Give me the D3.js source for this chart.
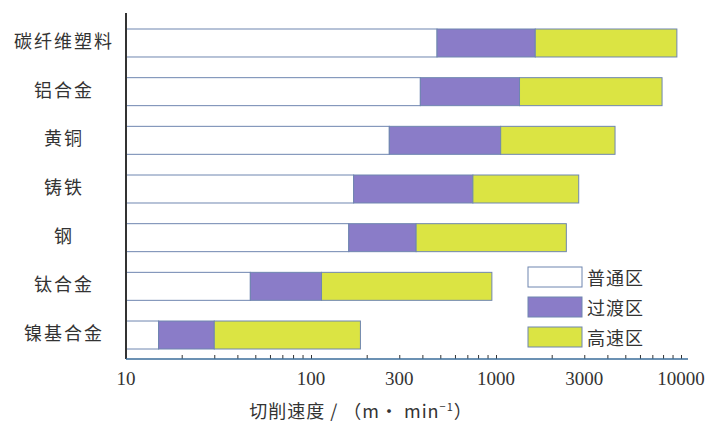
<!DOCTYPE html>
<html>
<head>
<meta charset="utf-8">
<script src="https://cdn.jsdelivr.net/npm/d3@7"></script>
<style>
  body { margin: 0; background: #fff; }
  svg { display: block; }
  .cat { font-family: "Noto Sans CJK SC", sans-serif; font-size: 18px; fill: #333; }
  .tick-label { font-family: "Liberation Serif", serif; font-size: 19px; fill: #333; }
</style>
</head>
<body>
<div id="chart"></div>
<script>
// materials, top to bottom
const materials = ["碳纤维塑料", "铝合金", "黄铜", "铸铁", "钢", "钛合金", "镍基合金"];
// speed boundaries (m/min)
const normalEnd = [480, 390, 265, 170, 160, 47, 15];     // 普通区 ends / 过渡区 starts
const transEnd = [1630, 1340, 1060, 750, 370, 114, 30];  // 过渡区 ends / 高速区 starts
const highEnd = [9500, 7900, 4400, 2800, 2400, 950, 185];
const zones = ["普通区", "过渡区", "高速区"];
const zoneColors = ["#ffffff", "#8a7cc8", "#dbe443"];
const tickValues = [10, 100, 300, 1000, 3000, 10000];

const width = 716, height = 423;
const svg = d3.select("#chart").append("svg")
  .attr("width", width).attr("height", height);

const x = d3.scaleLog().domain([10, 10000]).range([126, 681]);
const y = d3.scaleBand().domain(materials).range([29, 349])
  .paddingInner(0.425).paddingOuter(0);

// build segments per material
const segs = [];
materials.forEach((m, i) => {
  const bounds = [10, normalEnd[i], transEnd[i], highEnd[i]];
  for (let k = 0; k < 3; k++) {
    segs.push({ m, k, x0: bounds[k], x1: bounds[k + 1] });
  }
});

svg.append("g").selectAll("rect")
  .data(segs)
  .enter()
  .append("rect")
  .attr("x", d => x(d.x0))
  .attr("y", d => y(d.m))
  .attr("width", d => x(d.x1) - x(d.x0))
  .attr("height", y.bandwidth())
  .attr("fill", d => zoneColors[d.k])
  .attr("stroke", "#6f86b0")
  .attr("stroke-width", 1);

// category labels
svg.append("g").selectAll("text")
  .data(materials)
  .enter()
  .append("text")
  .attr("class", "cat")
  .attr("x", 64)
  .attr("y", d => y(d) + y.bandwidth() / 2 - 3)
  .attr("text-anchor", "middle")
  .attr("dominant-baseline", "central")
  .style("letter-spacing", "2px")
  .text(d => d);

// y axis line
svg.append("line")
  .attr("x1", x(10)).attr("x2", x(10))
  .attr("y1", 13).attr("y2", 359)
  .attr("stroke", "#333").attr("stroke-width", 2);

// bottom axis with inward minor ticks
const xAxis = d3.axisBottom(x)
  .tickValues(x.ticks())
  .tickSize(-4)
  .tickFormat("");
const gx = svg.append("g")
  .attr("transform", "translate(0,359)")
  .call(xAxis);
gx.select(".domain").remove();
gx.selectAll(".tick line").attr("stroke", "#333");
gx.append("line")
  .attr("x1", x(10)).attr("x2", 688)
  .attr("stroke", "#3a6d9a").attr("stroke-width", 1.5);

svg.append("g").selectAll("text")
  .data(tickValues)
  .enter()
  .append("text")
  .attr("class", "tick-label")
  .attr("x", d => x(d))
  .attr("y", 385)
  .attr("text-anchor", "middle")
  .text(d => d);

// axis title
const title = svg.append("text")
  .attr("x", 361).attr("y", 418)
  .attr("text-anchor", "middle")
  .style("font-family", "'Noto Sans CJK SC', sans-serif")
  .style("font-size", "18px")
  .style("letter-spacing", "1px")
  .style("fill", "#333");
title.append("tspan").text("切削速度 / （m· min");
title.append("tspan").attr("dy", -7).style("font-size", "11px").text("−1");
title.append("tspan").attr("dy", 7).text("）");

// legend
const legend = svg.append("g").attr("transform", "translate(528,267)");
zones.forEach((z, i) => {
  const row = legend.append("g").attr("transform", `translate(0,${i * 30})`);
  row.append("rect")
    .attr("width", 54).attr("height", 20)
    .attr("fill", zoneColors[i])
    .attr("stroke", "#6f86b0");
  row.append("text")
    .attr("class", "cat")
    .attr("x", 59).attr("y", 10)
    .attr("dominant-baseline", "central")
    .style("letter-spacing", "1px")
    .text(z);
});
</script>
</body>
</html>
